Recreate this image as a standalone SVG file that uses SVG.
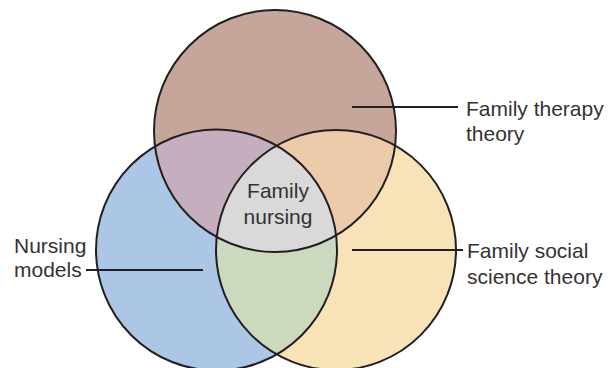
<svg xmlns="http://www.w3.org/2000/svg" width="613" height="368" viewBox="0 0 613 368">
<style>
.lbl{font-family:"Liberation Sans",Arial,sans-serif;font-size:21px;fill:#333333}
.edge{fill:none;stroke:#231f20;stroke-width:2}
.ln{stroke:#231f20;stroke-width:2}
</style>
<defs>
<clipPath id="cTop"><circle cx="275" cy="131" r="121"/></clipPath>
<clipPath id="cLeft"><circle cx="216.5" cy="250" r="120.5"/></clipPath>
<clipPath id="cRight"><circle cx="336" cy="250" r="120"/></clipPath>
</defs>
<rect width="613" height="368" fill="#ffffff"/>
<g id="node-nursing-models">
<circle cx="216.5" cy="250" r="120.5" fill="#abc7e5"/>
</g>
<g id="node-family-social-science">
<circle cx="336" cy="250" r="120" fill="#f8e3b8"/>
</g>
<g id="node-family-therapy">
<circle cx="275" cy="131" r="121" fill="#c6a69a"/>
</g>
<g id="overlaps">
<circle cx="216.5" cy="250" r="120.5" fill="#c5aebd" clip-path="url(#cTop)"/>
<circle cx="336" cy="250" r="120" fill="#eccbab" clip-path="url(#cTop)"/>
<circle cx="336" cy="250" r="120" fill="#ccd9be" clip-path="url(#cLeft)"/>
</g>
<g id="node-family-nursing">
<g clip-path="url(#cLeft)"><circle cx="336" cy="250" r="120" fill="#d9d9d9" clip-path="url(#cTop)"/></g>
<text class="lbl" x="278" y="198" text-anchor="middle">Family</text>
<text class="lbl" x="278" y="224" text-anchor="middle">nursing</text>
</g>
<g id="outlines">
<circle class="edge" cx="216.5" cy="250" r="120.5"/>
<circle class="edge" cx="336" cy="250" r="120"/>
<circle class="edge" cx="275" cy="131" r="121"/>
</g>
<g id="connectors">
<line class="ln" x1="352" y1="107" x2="458" y2="107"/>
<line class="ln" x1="86" y1="270" x2="203" y2="270"/>
<line class="ln" x1="352" y1="250" x2="463" y2="250"/>
</g>
<g id="labels">
<text class="lbl" x="466" y="116">Family therapy</text>
<text class="lbl" x="466" y="141">theory</text>
<text class="lbl" x="14" y="253">Nursing</text>
<text class="lbl" x="14" y="277">models</text>
<text class="lbl" x="467" y="258">Family social</text>
<text class="lbl" x="467" y="284">science theory</text>
</g>
</svg>
